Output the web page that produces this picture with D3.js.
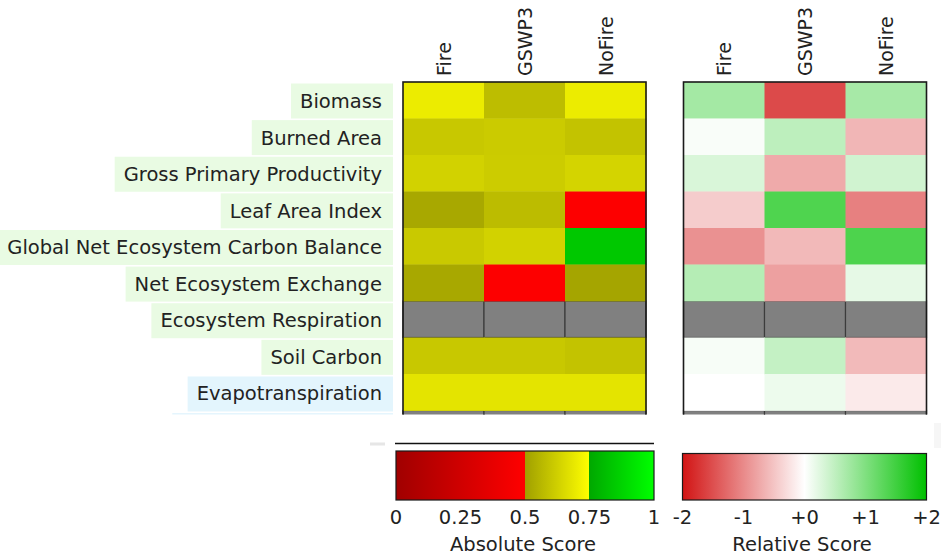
<!DOCTYPE html>
<html>
<head>
<meta charset="utf-8">
<script src="https://cdn.jsdelivr.net/npm/d3@7"></script>
<style>
  html, body { margin: 0; padding: 0; background: #ffffff; }
  svg { display: block; }
  text { font-family: "DejaVu Sans", sans-serif; fill: #222; }
</style>
</head>
<body>
<svg id="chart" width="941" height="554"></svg>
<script>
// Models (columns) and metrics (rows) of the scorecard
const models = ["Fire", "GSWP3", "NoFire"];
const metrics = [
  "Biomass", "Burned Area", "Gross Primary Productivity", "Leaf Area Index",
  "Global Net Ecosystem Carbon Balance", "Net Ecosystem Exchange",
  "Ecosystem Respiration", "Soil Carbon", "Evapotranspiration", "Evaporative Fraction"
];
const metricGroup = [
  "eco", "eco", "eco", "eco", "eco", "eco", "eco", "eco", "hydro", "hydro"
];

// Absolute scores (0..1), null = not available
const absFire   = [0.700, 0.605, 0.632, 0.521, 0.608, 0.521, null, 0.605, 0.679, null];
const absGSWP3  = [0.576, 0.613, 0.616, 0.574, 0.632, 0.490, null, 0.605, 0.679, null];
const absNoFire = [0.700, 0.592, 0.637, 0.490, 0.842, 0.513, null, 0.592, 0.679, null];

// Relative scores (-2..+2), null = not available
const relFire   = [ 0.71,  0.05,  0.30, -0.43, -0.94,  0.58, null,  0.06,  0.00, null];
const relGSWP3  = [-1.54,  0.52, -0.72,  1.38, -0.60, -0.81, null,  0.46,  0.14, null];
const relNoFire = [ 0.69, -0.62,  0.37, -1.08,  1.40,  0.20, null, -0.59, -0.18, null];

const absTicks = [0, 0.25, 0.5, 0.75, 1];
const absTickLabels = ["0", "0.25", "0.5", "0.75", "1"];
const relTicks = [-2, -1, 0, 1, 2];
const relTickLabels = ["-2", "-1", "+0", "+1", "+2"];

const absByModel = [absFire, absGSWP3, absNoFire];
const relByModel = [relFire, relGSWP3, relNoFire];

const svg = d3.select("#chart");
const FONT = 19.5;
const HEAD_FONT = 19;

// Colour scales
const absColor = d3.scaleLinear()
  .domain([0, 0.49999, 0.5, 0.74999, 0.75, 1])
  .range(["#a00000", "#ff0000", "#a0a000", "#ffff00", "#00a800", "#00ff00"])
  .clamp(true);
const relColor = d3.scaleLinear()
  .domain([-2, 0, 2])
  .range(["#d21414", "#ffffff", "#00c000"])
  .clamp(true);
const missingColor = "#808080";

// Layout scales
const y = d3.scaleBand().domain(metrics).range([82, 82 + 36.5 * metrics.length]);
const xAbs = d3.scaleBand().domain(models).range([403, 646]);
const xRel = d3.scaleBand().domain(models).range([683.5, 926.5]);

// Everything in the table area is cut off below the visible window
svg.append("defs").append("clipPath").attr("id", "tableClip")
  .append("rect").attr("x", 0).attr("y", 0).attr("width", 941).attr("height", 414.5);

const table = svg.append("g").attr("clip-path", "url(#tableClip)");

// Row labels with group-coloured backgrounds
const labelRight = 382;
const labels = table.append("g");
metrics.forEach((m, i) => {
  const g = labels.append("g");
  const t = g.append("text")
    .attr("x", labelRight)
    .attr("y", y(m) + y.bandwidth() / 2 + 1.5)
    .attr("text-anchor", "end")
    .attr("dominant-baseline", "central")
    .attr("font-size", FONT)
    .text(m);
  const w = t.node().getComputedTextLength();
  g.insert("rect", "text")
    .attr("x", labelRight - w - 9)
    .attr("y", y(m) + 1.5 + i * 0.12)
    .attr("width", w + 9 + 11)
    .attr("height", y.bandwidth() - 1.5)
    .attr("fill", metricGroup[i] === "eco" ? "#e9fbe3" : "#e3f5fd");
});

function drawTable(x, byModel, color) {
  const cells = [];
  models.forEach((mod, j) => {
    metrics.forEach((met, i) => {
      cells.push({ model: mod, metric: met, v: byModel[j][i] });
    });
  });
  const g = table.append("g");
  g.selectAll("rect.missing")
    .data(cells.filter(d => d.v === null))
    .join("rect")
    .attr("class", "missing")
    .attr("x", d => x(d.model))
    .attr("y", d => y(d.metric))
    .attr("width", x.bandwidth())
    .attr("height", y.bandwidth())
    .attr("fill", missingColor)
    .attr("stroke", "#3c3c3c")
    .attr("stroke-width", 1.2);
  g.selectAll("rect.cell")
    .data(cells.filter(d => d.v !== null))
    .join("rect")
    .attr("class", "cell")
    .attr("x", d => x(d.model))
    .attr("y", d => y(d.metric))
    .attr("width", x.bandwidth() + 0.5)
    .attr("height", y.bandwidth() + 0.4)
    .attr("fill", d => color(d.v));
  // frame
  g.append("rect")
    .attr("x", x.range()[0])
    .attr("y", y.range()[0])
    .attr("width", x.range()[1] - x.range()[0])
    .attr("height", y.range()[1] - y.range()[0])
    .attr("fill", "none")
    .attr("stroke", "#1a1a1a")
    .attr("stroke-width", 1.6);
  // column headers
  svg.append("g").selectAll("text")
    .data(models)
    .join("text")
    .attr("transform", d => `translate(${x(d) + x.bandwidth() / 2},76) rotate(-90)`)
    .attr("text-anchor", "start")
    .attr("dominant-baseline", "central")
    .attr("font-size", HEAD_FONT)
    .text(d => d);
}

drawTable(xAbs, absByModel, absColor);
drawTable(xRel, relByModel, relColor);

// Colour bars
const defs = svg.select("defs");
function gradient(id, scale, domain, stops) {
  const lg = defs.append("linearGradient").attr("id", id)
    .attr("x1", "0%").attr("x2", "100%").attr("y1", "0%").attr("y2", "0%");
  const [d0, d1] = domain;
  stops.forEach(v => {
    lg.append("stop")
      .attr("offset", ((v - d0) / (d1 - d0) * 100) + "%")
      .attr("stop-color", scale(v));
  });
}
gradient("absGrad", absColor, [0, 1], [0, 0.49999, 0.5, 0.74999, 0.75, 1]);
gradient("relGrad", relColor, [-2, 2], [-2, -1, 0, 1, 2]);

function colorbar(x0, x1, top, bottom, gradId, domain, ticks, tickLabels, title, titleX) {
  const s = d3.scaleLinear().domain(domain).range([x0, x1]);
  svg.append("rect")
    .attr("x", x0).attr("y", top)
    .attr("width", x1 - x0).attr("height", bottom - top)
    .attr("fill", `url(#${gradId})`)
    .attr("stroke", "#1a1a1a").attr("stroke-width", 1.2);
  svg.append("g").selectAll("text")
    .data(ticks)
    .join("text")
    .attr("x", d => s(d))
    .attr("y", 517)
    .attr("text-anchor", "middle")
    .attr("dominant-baseline", "central")
    .attr("font-size", FONT)
    .text((d, i) => tickLabels[i]);
  svg.append("text")
    .attr("x", titleX)
    .attr("y", 544)
    .attr("text-anchor", "middle")
    .attr("dominant-baseline", "central")
    .attr("font-size", FONT)
    .text(title);
}

colorbar(396, 654, 451, 500, "absGrad", [0, 1], absTicks, absTickLabels, "Absolute Score", 523);
colorbar(682.5, 926.5, 453.5, 500, "relGrad", [-2, 2], relTicks, relTickLabels, "Relative Score", 802);

// Separator rule above the absolute score bar and small decorations
svg.append("line")
  .attr("x1", 395).attr("x2", 654).attr("y1", 443.5).attr("y2", 443.5)
  .attr("stroke", "#111").attr("stroke-width", 1.4);
svg.append("rect")
  .attr("x", 370).attr("y", 442.5).attr("width", 15).attr("height", 3)
  .attr("fill", "#e6e6e6");
svg.append("rect")
  .attr("x", 934).attr("y", 423).attr("width", 7).attr("height", 25)
  .attr("fill", "#f6f6f6");
</script>
</body>
</html>
